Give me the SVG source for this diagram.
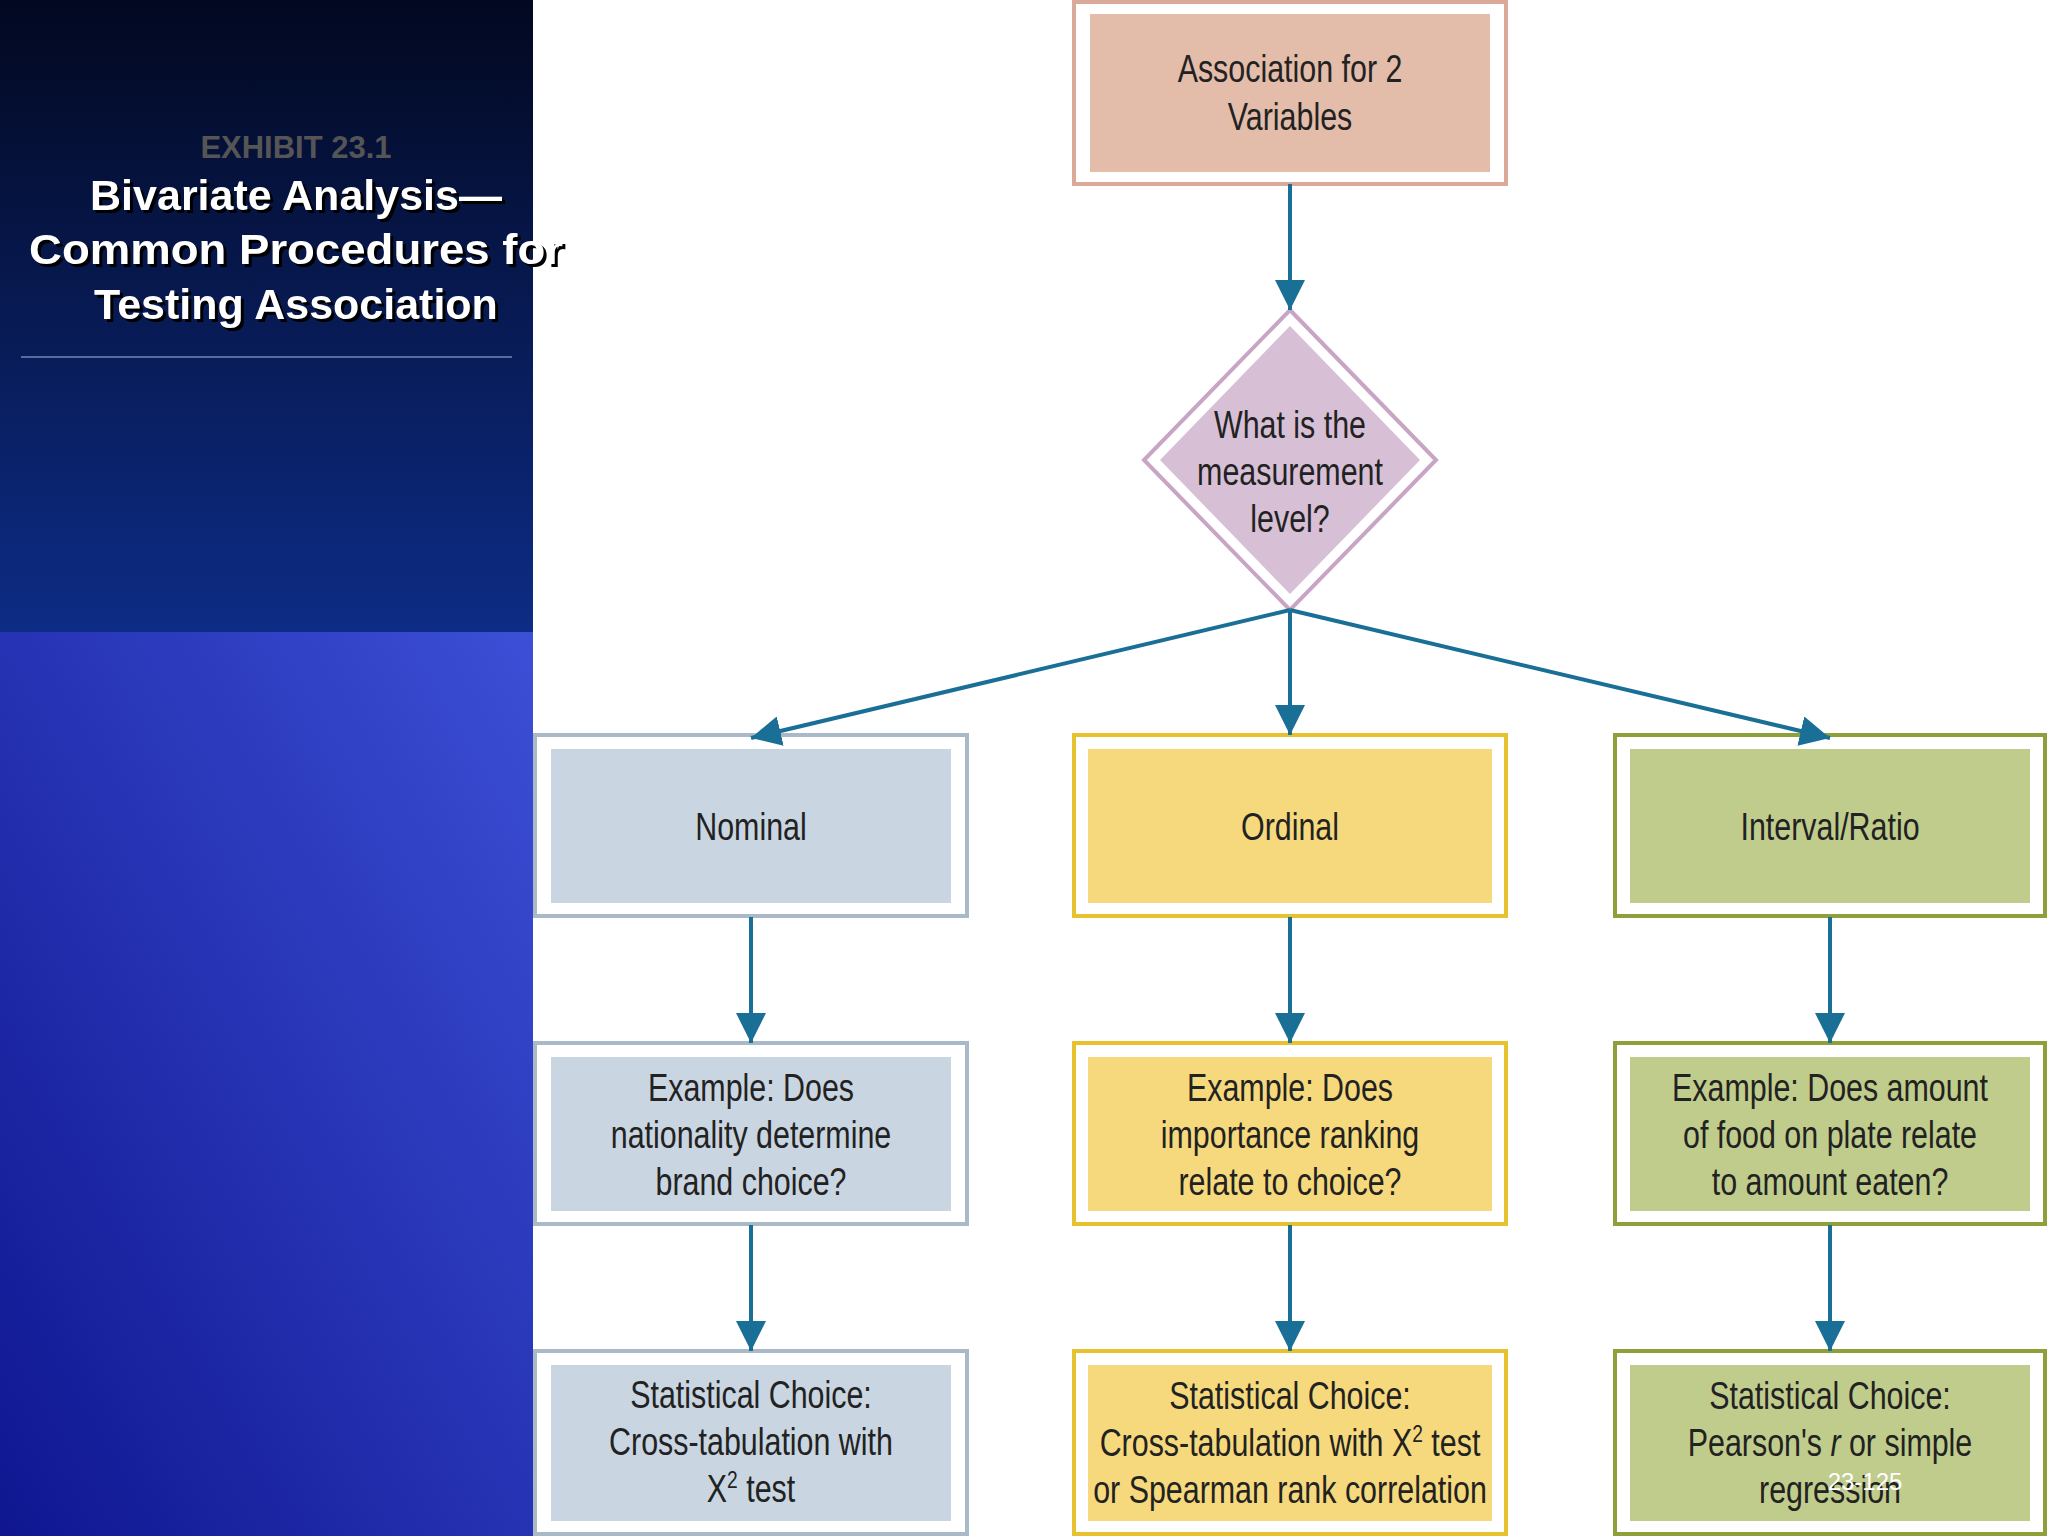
<svg xmlns="http://www.w3.org/2000/svg" width="2048" height="1536" viewBox="0 0 2048 1536">
<defs>
<linearGradient id="gTop" x1="0" y1="0" x2="0" y2="1"><stop offset="0" stop-color="#020820"/><stop offset="1" stop-color="#0d2c86"/></linearGradient>
<linearGradient id="gBot" x1="0" y1="1" x2="1" y2="0"><stop offset="0" stop-color="#0f1690"/><stop offset="1" stop-color="#3c4fd6"/></linearGradient>
<marker id="a2" viewBox="0 0 10 10" refX="10" refY="5" markerWidth="30" markerHeight="30" markerUnits="userSpaceOnUse" orient="auto"><path d="M0,0L10,5L0,10z" fill="#1a6f96"/></marker>
<style>
.t{font-family:"Liberation Sans",Arial,sans-serif;font-size:38px;fill:#222;text-anchor:middle}
.h{font-family:"Liberation Sans",Arial,sans-serif;font-weight:bold;text-anchor:middle}
.c{stroke:#1a6f96;stroke-width:4;fill:none;marker-end:url(#a2)}
.o{fill:#fff;stroke-width:4}
</style>
</defs>
<rect width="2048" height="1536" fill="#fff"/>
<rect x="0" y="0" width="533" height="632" fill="url(#gTop)"/>
<rect x="0" y="632" width="533" height="904" fill="url(#gBot)"/>
<text class="h" x="296" y="158" font-size="31" fill="#555">EXHIBIT 23.1</text>
<g class="h" font-size="43" fill="#fff" style="filter:drop-shadow(3px 3px 0 #000)">
<text x="296" y="210">Bivariate Analysis—</text>
<text x="296" y="264" textLength="534" lengthAdjust="spacingAndGlyphs">Common Procedures for</text>
<text x="296" y="319">Testing Association</text>
</g>
<line x1="21" y1="357" x2="512" y2="357" stroke="#5a6a9a" stroke-width="2"/>

<g id="start"><rect class="o" x="1074" y="2" width="432" height="182" stroke="#dba99a"/><rect x="1090" y="14" width="400" height="158" fill="#e3bcaa"/>
<g transform="translate(1290,0) scale(0.8,1)"><text class="t" x="0" y="82">Association for 2</text><text class="t" x="0" y="130">Variables</text></g></g>

<g id="decision"><polygon points="1290,310 1436,460 1290,610 1144,460" fill="#fff" stroke="#c8a4c5" stroke-width="4"/><polygon points="1290,326 1420,460 1290,594 1160,460" fill="#d7bfd6"/>
<g transform="translate(1290,0) scale(0.8,1)"><text class="t" x="0" y="438">What is the</text><text class="t" x="0" y="485">measurement</text><text class="t" x="0" y="532">level?</text></g></g>

<g id="nominal"><rect class="o" x="535" y="735" width="432" height="181" stroke="#a9b9c8"/><rect x="551" y="749" width="400" height="154" fill="#c9d5e1"/><g transform="translate(751,0) scale(0.8,1)"><text class="t" x="0" y="840">Nominal</text></g></g>
<g id="ordinal"><rect class="o" x="1074" y="735" width="432" height="181" stroke="#e8c22e"/><rect x="1088" y="749" width="404" height="154" fill="#f6d97c"/><g transform="translate(1290,0) scale(0.8,1)"><text class="t" x="0" y="840">Ordinal</text></g></g>
<g id="interval"><rect class="o" x="1615" y="735" width="430" height="181" stroke="#8ea03a"/><rect x="1630" y="749" width="400" height="154" fill="#c0cc8c"/><g transform="translate(1830,0) scale(0.8,1)"><text class="t" x="0" y="840">Interval/Ratio</text></g></g>

<g id="ex-nominal"><rect class="o" x="535" y="1043" width="432" height="181" stroke="#a9b9c8"/><rect x="551" y="1057" width="400" height="154" fill="#c9d5e1"/>
<g transform="translate(751,0) scale(0.8,1)"><text class="t" x="0" y="1101">Example: Does</text><text class="t" x="0" y="1148">nationality determine</text><text class="t" x="0" y="1195">brand choice?</text></g></g>
<g id="ex-ordinal"><rect class="o" x="1074" y="1043" width="432" height="181" stroke="#e8c22e"/><rect x="1088" y="1057" width="404" height="154" fill="#f6d97c"/>
<g transform="translate(1290,0) scale(0.8,1)"><text class="t" x="0" y="1101">Example: Does</text><text class="t" x="0" y="1148">importance ranking</text><text class="t" x="0" y="1195">relate to choice?</text></g></g>
<g id="ex-interval"><rect class="o" x="1615" y="1043" width="430" height="181" stroke="#8ea03a"/><rect x="1630" y="1057" width="400" height="154" fill="#c0cc8c"/>
<g transform="translate(1830,0) scale(0.8,1)"><text class="t" x="0" y="1101">Example: Does amount</text><text class="t" x="0" y="1148">of food on plate relate</text><text class="t" x="0" y="1195">to amount eaten?</text></g></g>

<g id="st-nominal"><rect class="o" x="535" y="1351" width="432" height="183" stroke="#a9b9c8"/><rect x="551" y="1365" width="400" height="156" fill="#c9d5e1"/>
<g transform="translate(751,0) scale(0.8,1)"><text class="t" x="0" y="1408">Statistical Choice:</text><text class="t" x="0" y="1455">Cross-tabulation with</text><text class="t" x="0" y="1502">X<tspan font-size="24" dy="-14">2</tspan><tspan dy="14"> test</tspan></text></g></g>
<g id="st-ordinal"><rect class="o" x="1074" y="1351" width="432" height="183" stroke="#e8c22e"/><rect x="1088" y="1365" width="404" height="156" fill="#f6d97c"/>
<g transform="translate(1290,0) scale(0.8,1)"><text class="t" x="0" y="1409">Statistical Choice:</text><text class="t" x="0" y="1456">Cross-tabulation with X<tspan font-size="24" dy="-14">2</tspan><tspan dy="14"> test</tspan></text><text class="t" x="0" y="1503">or Spearman rank correlation</text></g></g>
<g id="st-interval"><rect class="o" x="1615" y="1351" width="430" height="183" stroke="#8ea03a"/><rect x="1630" y="1365" width="400" height="156" fill="#c0cc8c"/>
<g transform="translate(1830,0) scale(0.8,1)"><text class="t" x="0" y="1409">Statistical Choice:</text><text class="t" x="0" y="1456">Pearson's <tspan font-style="italic">r</tspan> or simple</text><text class="t" x="0" y="1503">regression</text></g></g>

<g id="connectors">
<line class="c" x1="1290" y1="184" x2="1290" y2="310"/>
<line class="c" x1="1290" y1="610" x2="751" y2="738"/>
<line class="c" x1="1290" y1="610" x2="1290" y2="735"/>
<line class="c" x1="1290" y1="610" x2="1830" y2="738"/>
<line class="c" x1="751" y1="917" x2="751" y2="1043"/>
<line class="c" x1="1290" y1="917" x2="1290" y2="1043"/>
<line class="c" x1="1830" y1="917" x2="1830" y2="1043"/>
<line class="c" x1="751" y1="1225" x2="751" y2="1351"/>
<line class="c" x1="1290" y1="1225" x2="1290" y2="1351"/>
<line class="c" x1="1830" y1="1225" x2="1830" y2="1351"/>
</g>
<text x="1865" y="1490" font-family="Liberation Sans,Arial,sans-serif" font-size="24" fill="#fff" text-anchor="middle">23-125</text>
</svg>
